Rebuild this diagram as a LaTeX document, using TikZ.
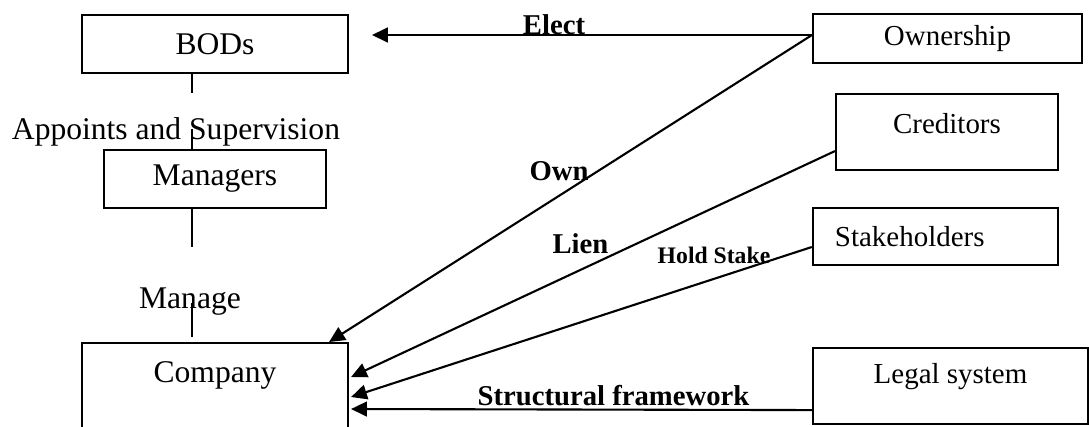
\documentclass[tikz,border=0pt]{standalone}
\usepackage{fontspec}
\setmainfont{Liberation Serif}
\usetikzlibrary{arrows.meta,calc}
\tikzset{
  unitbox/.style={draw,line width=0.8pt,inner sep=0pt,font=\fontsize{11}{13}\selectfont},
  bigbox/.style={unitbox,font=\fontsize{12}{14}\selectfont},
  tag/.style={inner sep=0pt,anchor=base,font=\fontsize{10.9}{13}\selectfont\bfseries},
  plain/.style={inner sep=0pt,anchor=base,font=\fontsize{12}{14}\selectfont},
  link/.style={line width=0.8pt,-{Triangle[length=6pt,width=5.6pt]}},
  stem/.style={line width=0.8pt}
}
\begin{document}
\begin{tikzpicture}[x=0.38pt,y=-0.38pt]
    \useasboundingbox (0,0) rectangle (1089,426);
    \clip (0,0) rectangle (1089,426);
    \node[bigbox,minimum width=101.1pt,minimum height=22pt] (bods) at (215,44) {BODs};
    \node[bigbox,minimum width=84.4pt,minimum height=22pt] (managers) at (215,179) {Managers};
    \node[bigbox,minimum width=101.1pt,text height=14.8pt,text depth=23.2pt,anchor=north] (company) at (215,342) {Company};
    \node[unitbox,minimum width=102.2pt,minimum height=18.6pt] (ownership) at (947.5,38.5) {Ownership};
    \node[unitbox,minimum width=84.4pt,text height=14.8pt,text depth=14.1pt,anchor=north] (creditors) at (947,93) {Creditors};
    \node[unitbox,text width=76.4pt,inner xsep=8.4pt,align=left,minimum height=21.7pt] (stakeholders) at (935.5,236.5) {Stakeholders};
    \node[unitbox,minimum width=104.5pt,text height=13.3pt,text depth=15.6pt,anchor=north] (legal) at (950.5,347) {Legal system};
    \node[plain] (appoint) at (176,139) {Appoints and Supervision};
    \node[plain] (manage) at (190,308) {Manage};
    \node[tag] (elect) at (554,34) {Elect};
    \node[tag] (own) at (559,180) {Own};
    \node[tag] (lien) at (580.5,253) {Lien};
    \node[tag,font=\fontsize{9}{11}\selectfont\bfseries] (hold) at (714,263) {Hold Stake};
    \node[tag] (frame) at (613.5,405) {Structural framework};
    \coordinate (vx) at (192,0);
    \coordinate (electtip) at (372,35);
    \draw[stem] (bods.south -| vx) -- ++(0,19);
    \draw[stem] ($(managers.north -| vx)+(0,-20)$) -- (managers.north -| vx);
    \draw[stem] (managers.south -| vx) -- ++(0,38);
    \draw[stem] ($(company.north -| vx)+(0,-39)$) -- ++(0,34);
    \draw[link] (electtip -| ownership.west) -- (electtip);
    \draw[link] ($(ownership.west)+(0,-3.5)$) -- ($(company.north east)+(-20,0)$);
    \draw[link] ($(creditors.west)+(0,19)$) -- ($(company.north east)+(2,35)$);
    \draw[link] ($(stakeholders.west)+(0,10.5)$) -- ($(company.north east)+(2,55)$);
    \draw[link] ($(legal.west)+(0,24)$) -- ($(company.north east)+(2,67)$);
\end{tikzpicture}
\end{document}
